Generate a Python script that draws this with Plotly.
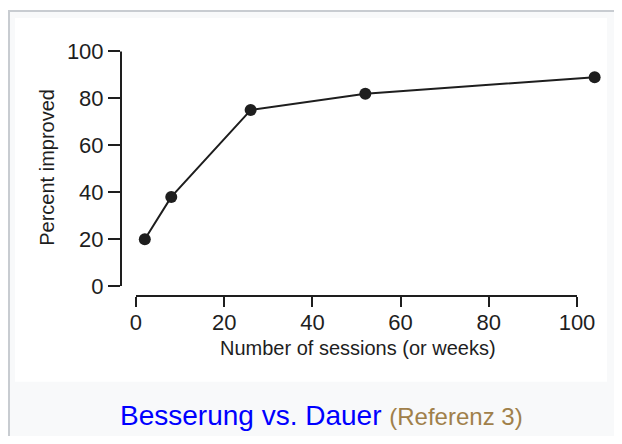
import plotly.graph_objects as go

# Data
sessions = [2, 8, 26, 52, 104]
percent_improved = [20, 38, 75, 82, 89]
x_ticks = [0, 20, 40, 60, 80, 100]
y_ticks = [0, 20, 40, 60, 80, 100]

# The page body has an 8px margin, so the figure sits at (8, 8) in the window.
OFF = 8
W, H = 614, 428

def px(x):
    """page x pixel -> paper fraction"""
    return (x - OFF) / W

def py(y):
    """page y pixel -> paper fraction"""
    return (H - (y - OFF)) / H

ink = "#1e1e1e"
font_family = "Liberation Sans, Arial, Helvetica, sans-serif"

fig = go.Figure()
fig.add_trace(go.Scatter(
    x=sessions, y=percent_improved, mode="lines+markers",
    line=dict(color=ink, width=2),
    marker=dict(color=ink, size=12),
    cliponaxis=False, showlegend=False, hoverinfo="skip",
))

fig.update_layout(
    width=W, height=H,
    margin=dict(l=0, r=0, t=0, b=0),
    paper_bgcolor="white",
    plot_bgcolor="rgba(0,0,0,0)",
    font=dict(family=font_family, color=ink),
    xaxis=dict(
        domain=[px(121), px(605)], range=[-3.40, 106.35],
        tickvals=x_ticks, ticks="outside", ticklen=10, tickwidth=2, tickcolor=ink,
        ticklabelstandoff=-3,
        showgrid=False, zeroline=False, showline=False,
        tickfont=dict(size=22, color=ink, family=font_family),
    ),
    yaxis=dict(
        domain=[py(297), py(40)], range=[-4.20, 103.78],
        tickvals=y_ticks, ticks="outside", ticklen=12, tickwidth=2, tickcolor=ink,
        showgrid=False, zeroline=False, showline=False,
        tickfont=dict(size=22, color=ink, family=font_family),
    ),
    shapes=[
        # frame
        dict(type="rect", xref="paper", yref="paper",
             x0=px(9), x1=px(660), y0=py(470), y1=py(8),
             fillcolor="#f8f9fa", line=dict(color="#c8ccd1", width=2), layer="below"),
        # white image area
        dict(type="rect", xref="paper", yref="paper",
             x0=px(15), x1=px(607), y0=py(384), y1=py(15),
             fillcolor="white", line=dict(width=0), layer="below"),
        # x axis line (0..100)
        dict(type="line", xref="x", yref="y domain", x0=0, x1=100, y0=0, y1=0,
             line=dict(color=ink, width=2)),
        # y axis line (0..100)
        dict(type="line", xref="x domain", yref="y", x0=0, x1=0, y0=0, y1=100,
             line=dict(color=ink, width=2)),
    ],
    annotations=[
        dict(text="Number of sessions (or weeks)", xref="paper", yref="paper",
             x=px(358), y=py(350), showarrow=False,
             font=dict(size=20, color=ink, family=font_family),
             xanchor="center", yanchor="middle"),
        dict(text="Percent improved", xref="paper", yref="paper",
             x=px(47), y=py(167), showarrow=False, textangle=-90,
             font=dict(size=20, color=ink, family=font_family),
             xanchor="center", yanchor="middle"),
        dict(text='<span style="color:#0000ff">Besserung vs. Dauer</span> '
                  '<span style="color:#a0804a;font-size:24px">(Referenz 3)</span>',
             xref="paper", yref="paper", x=px(321), y=py(418), showarrow=False,
             font=dict(size=28, color="#0000ff", family=font_family),
             xanchor="center", yanchor="middle"),
    ],
)

fig.write_html("out.html")
